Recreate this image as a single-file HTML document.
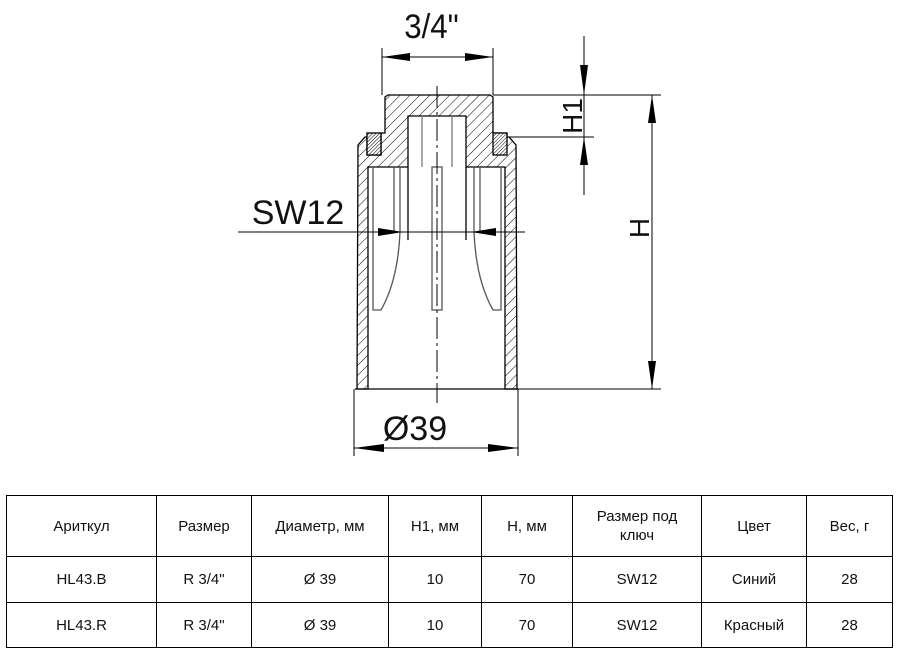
<!DOCTYPE html>
<html><head><meta charset="utf-8"><style>
body{margin:0;background:#fff;width:900px;height:657px;overflow:hidden;font-family:"Liberation Sans","DejaVu Sans",sans-serif}
svg{position:absolute;left:0;top:0}
table{position:absolute;left:6px;top:495px;border-collapse:collapse;font-size:15px;color:#111}
td{border:1.5px solid #000;text-align:center;padding:0;line-height:19px}
</style></head><body>
<svg width="900" height="490" viewBox="0 0 900 490">
<defs>
<pattern id="h" patternUnits="userSpaceOnUse" width="7" height="7" patternTransform="rotate(45)">
<rect width="7" height="7" fill="#fff"/><line x1="0" y1="0" x2="0" y2="7" stroke="#000" stroke-width="1"/></pattern>
<pattern id="g" patternUnits="userSpaceOnUse" width="2.5" height="2.5" patternTransform="rotate(45)">
<rect width="2.5" height="2.5" fill="#fff"/><line x1="0" y1="0" x2="0" y2="2.5" stroke="#000" stroke-width="1"/></pattern>
</defs>
<g stroke="#000" stroke-width="1.3" fill="none">
<!-- body outer -->
<path d="M357,389 L358,145 L365,137 L367,137 L367,155 L381,155 L381,133 L385,133 L385,97 L388,95 L490,95 L493,97 L493,133 L507,133 L507,137 L509,137 L516,145 L517,389 L505,389 L505,167 L466,167 L466,116 L408,116 L408,167 L368,167 L368,389 Z" fill="url(#h)"/>
<rect x="367" y="133" width="14" height="22" fill="url(#g)"/>
<rect x="493" y="133" width="14" height="22" fill="url(#g)"/>
<line x1="355" y1="389" x2="518" y2="389"/>
<!-- fingers -->
<path d="M373,167 L373,310 L381,310 Q398,280 400,232 L400,167" stroke="#555"/>
<path d="M394,167 L394,232" stroke="#555"/>
<path d="M501,167 L501,310 L493,310 Q476,280 474,232 L474,167" stroke="#555"/>
<path d="M480,167 L480,232" stroke="#555"/>
<rect x="432" y="167" width="10" height="143" stroke="#555"/>
<line x1="422" y1="116" x2="422" y2="167" stroke="#777"/>
<line x1="452" y1="116" x2="452" y2="167" stroke="#777"/>
<line x1="408" y1="167" x2="408" y2="240"/>
<line x1="466" y1="167" x2="466" y2="240"/>
</g>
<g stroke="#000" stroke-width="1" fill="none">
<line x1="437" y1="86" x2="437" y2="403" stroke-dasharray="22,4,3,4"/>
<!-- 3/4 -->
<line x1="382" y1="48" x2="382" y2="95"/><line x1="493" y1="48" x2="493" y2="95"/>
<line x1="382" y1="57" x2="493" y2="57"/>
<!-- H1 -->
<line x1="584" y1="36" x2="584" y2="195"/>
<line x1="493" y1="95" x2="661" y2="95"/>
<line x1="507" y1="137" x2="594" y2="137"/>
<!-- H -->
<line x1="652" y1="95" x2="652" y2="389"/>
<line x1="518" y1="389" x2="661" y2="389"/>
<!-- SW12 -->
<line x1="238" y1="232" x2="525" y2="232"/>
<!-- Ø39 -->
<line x1="354" y1="389" x2="354" y2="456"/><line x1="518" y1="389" x2="518" y2="456"/>
<line x1="354" y1="448" x2="518" y2="448"/>
</g>
<g fill="#000">
<polygon points="382,57 410,53 410,61"/><polygon points="493,57 465,53 465,61"/>
<polygon points="584,95 580,65 588,65"/><polygon points="584,137 580,165 588,165"/>
<polygon points="652,95 648,123 656,123"/><polygon points="652,389 648,361 656,361"/>
<polygon points="403,232 378,228 378,236"/><polygon points="471,232 496,228 496,236"/>
<polygon points="354,448 384,444 384,452"/><polygon points="518,448 488,444 488,452"/>
</g>
<g font-family="Liberation Sans,sans-serif" fill="#111">
<text x="432" y="38" font-size="34" text-anchor="middle" transform="scale(0.92,1) translate(37,0)">3/4"</text>
<text x="298" y="224" font-size="34" text-anchor="middle">SW12</text>
<text x="415" y="440" font-size="34" text-anchor="middle">Ø39</text>
<text transform="translate(582,116) rotate(-90)" font-size="28" text-anchor="middle">H1</text>
<text transform="translate(649,228) rotate(-90)" font-size="28" text-anchor="middle">H</text>
</g>
</svg>
<table>
<tr style="height:61px"><td style="width:149px">Ариткул</td><td style="width:94px">Размер</td><td style="width:136px">Диаметр, мм</td><td style="width:92px">H1, мм</td><td style="width:90px">H, мм</td><td style="width:128px">Размер под<br>ключ</td><td style="width:104px">Цвет</td><td style="width:85px">Вес, г</td></tr>
<tr style="height:46px"><td>HL43.B</td><td>R 3/4"</td><td>Ø 39</td><td>10</td><td>70</td><td>SW12</td><td>Синий</td><td>28</td></tr>
<tr style="height:45px"><td>HL43.R</td><td>R 3/4"</td><td>Ø 39</td><td>10</td><td>70</td><td>SW12</td><td>Красный</td><td>28</td></tr>
</table>
</body></html>
